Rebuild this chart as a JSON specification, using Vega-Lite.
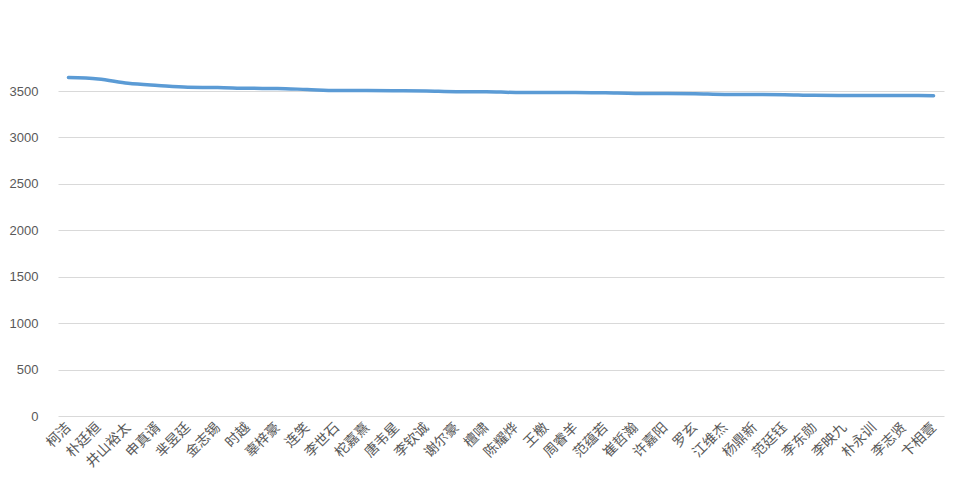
{
  "$schema": "https://vega.github.io/schema/vega-lite/v6.json",
  "autosize": {"type": "none"},
  "width": 886,
  "height": 325,
  "padding": {"left": 58, "top": 91, "right": 14, "bottom": 68},
  "background": "white",
  "data": {"values": [
    {"name": "柯洁", "value": 3645},
    {"name": "朴廷桓", "value": 3630},
    {"name": "井山裕太", "value": 3583},
    {"name": "申真谞", "value": 3559},
    {"name": "芈昱廷", "value": 3540},
    {"name": "金志锡", "value": 3538},
    {"name": "时越", "value": 3529},
    {"name": "辜梓豪", "value": 3527},
    {"name": "连笑", "value": 3516},
    {"name": "李世石", "value": 3505},
    {"name": "柁嘉熹", "value": 3505},
    {"name": "唐韦星", "value": 3503},
    {"name": "李钦诚", "value": 3500},
    {"name": "谢尔豪", "value": 3493},
    {"name": "檀啸", "value": 3493},
    {"name": "陈耀烨", "value": 3484},
    {"name": "王檄", "value": 3484},
    {"name": "周睿羊", "value": 3484},
    {"name": "范蕴若", "value": 3480},
    {"name": "崔哲瀚", "value": 3474},
    {"name": "许嘉阳", "value": 3473},
    {"name": "罗玄", "value": 3470},
    {"name": "江维杰", "value": 3463},
    {"name": "杨鼎新", "value": 3462},
    {"name": "范廷钰", "value": 3460},
    {"name": "李东勋", "value": 3453},
    {"name": "李映九", "value": 3452},
    {"name": "朴永训", "value": 3452},
    {"name": "李志贤", "value": 3451},
    {"name": "卞相壹", "value": 3450}
  ]},
  "mark": {"type": "line", "color": "#5b9bd5", "strokeWidth": 3.5, "interpolate": "monotone", "clip": false, "strokeCap": "round"},
  "encoding": {
    "x": {
      "field": "name", "type": "nominal", "sort": null,
      "scale": {"type": "point", "padding": 0.35},
      "axis": {
        "title": null, "labelAngle": -45, "labelAlign": "right", "labelBaseline": "middle",
        "labelFont": "Noto Sans CJK SC", "labelFontSize": 14, "labelColor": "#595959",
        "labelPadding": 9, "ticks": false, "domain": false, "grid": false, "labelOverlap": false
      }
    },
    "y": {
      "field": "value", "type": "quantitative",
      "scale": {"domain": [0, 3500], "nice": false},
      "axis": {
        "title": null, "values": [0, 500, 1000, 1500, 2000, 2500, 3000, 3500], "format": "d",
        "labelFont": "Liberation Sans", "labelFontSize": 13, "labelColor": "#595959",
        "labelPadding": 20, "ticks": false, "domain": false,
        "gridColor": "#d9d9d9", "gridWidth": 1
      }
    }
  },
  "config": {"view": {"stroke": null}}
}
